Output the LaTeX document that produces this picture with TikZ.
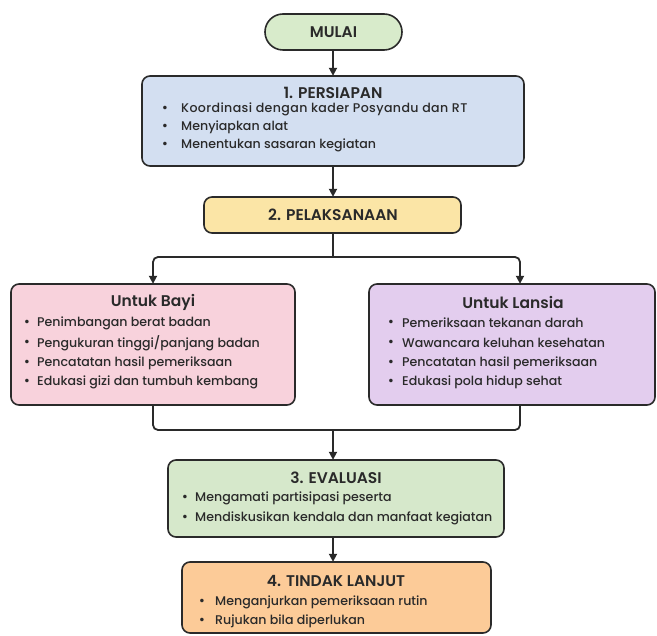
\documentclass[tikz,border=0pt]{standalone}
\usepackage{fontspec}
\setmainfont{Poppins}[UprightFont=* Medium, BoldFont=* SemiBold]
\usetikzlibrary{arrows.meta}
\definecolor{ink}{HTML}{2A2A2A}
\definecolor{cMulai}{HTML}{D8EBCB}
\definecolor{cPersiapan}{HTML}{D3DFF1}
\definecolor{cPelaksanaan}{HTML}{FBE5A6}
\definecolor{cBayi}{HTML}{F8D2DC}
\definecolor{cLansia}{HTML}{E3CDEE}
\definecolor{cEvaluasi}{HTML}{D6E8CB}
\definecolor{cTindak}{HTML}{FCCB98}
\tikzset{
  box/.style={draw=ink, line width=1.6pt, rounded corners=8pt},
  ttl/.style={font=\fontsize{15.5}{17}\selectfont\bfseries, text=ink, inner sep=0pt},
  itm/.style={font=\fontsize{12.6}{15}\selectfont, text=ink, anchor=west, inner sep=0pt},
  dot/.style={font=\fontsize{13.5}{15}\selectfont, text=ink, inner sep=0pt},
  conn/.style={draw=ink, line width=1.8pt, rounded corners=5pt},
  arr/.style={conn, -{Triangle[length=8pt,width=8pt]}},
}
\begin{document}
\begin{tikzpicture}[x=1pt,y=-1pt]
\useasboundingbox (0,0) rectangle (657,636);
% boxes
\path[box, fill=cMulai, rounded corners=18pt] (265,14) rectangle (402,50);
\node[inner sep=0pt, minimum width=137pt, minimum height=36pt] (mulai) at (333.5,32) {};
\path[box, fill=cPersiapan] (142,76) rectangle (524,166);
\node[inner sep=0pt, minimum width=382pt, minimum height=90pt] (persiapan) at (333,121) {};
\path[box, fill=cPelaksanaan] (204,197) rectangle (461,233);
\node[inner sep=0pt, minimum width=257pt, minimum height=36pt] (pelaksanaan) at (332.5,215) {};
\path[box, fill=cBayi] (11,284) rectangle (295,405);
\node[inner sep=0pt, minimum width=284pt, minimum height=121pt] (bayi) at (153,344.5) {};
\path[box, fill=cLansia] (369,284) rectangle (655,405);
\node[inner sep=0pt, minimum width=286pt, minimum height=121pt] (lansia) at (512,344.5) {};
\path[box, fill=cEvaluasi] (168,460) rectangle (504,537);
\node[inner sep=0pt, minimum width=336pt, minimum height=77pt] (evaluasi) at (336,498.5) {};
\path[box, fill=cTindak] (182,562) rectangle (491,633);
\node[inner sep=0pt, minimum width=309pt, minimum height=71pt] (tindak) at (336.5,597.5) {};
% texts
\node[ttl] (tMulai) at (333.5,32) {MULAI};
\node[ttl] (tPersiapan) at (333,93) {1. PERSIAPAN};
\node[dot] (d11) at (165,109) {•};
\node[itm] (i11) at (181,109) {\addfontfeatures{LetterSpace=3}Koordinasi dengan kader Posyandu dan RT};
\node[dot] (d12) at (165,127) {•};
\node[itm] (i12) at (181,127) {Menyiapkan alat};
\node[dot] (d13) at (165,145) {•};
\node[itm] (i13) at (181,145) {Menentukan sasaran kegiatan};
\node[ttl] (tPel) at (333,215) {2. PELAKSANAAN};
\node[ttl] (tBayi) at (153,302) {Untuk Bayi};
\node[dot] (d21) at (27,323) {•};
\node[itm] (i21) at (37,323) {Penimbangan berat badan};
\node[dot] (d22) at (27,343) {•};
\node[itm] (i22) at (37,343) {Pengukuran tinggi/panjang badan};
\node[dot] (d23) at (27,363) {•};
\node[itm] (i23) at (37,363) {Pencatatan hasil pemeriksaan};
\node[dot] (d24) at (27,382) {•};
\node[itm] (i24) at (37,382) {Edukasi gizi dan tumbuh kembang};
\node[ttl] (tLansia) at (513,302) {Untuk Lansia};
\node[dot] (d31) at (391,323) {•};
\node[itm] (i31) at (402,323) {Pemeriksaan tekanan darah};
\node[dot] (d32) at (391,343) {•};
\node[itm] (i32) at (402,343) {Wawancara keluhan kesehatan};
\node[dot] (d33) at (391,363) {•};
\node[itm] (i33) at (402,363) {Pencatatan hasil pemeriksaan};
\node[dot] (d34) at (391,382) {•};
\node[itm] (i34) at (402,382) {Edukasi pola hidup sehat};
\node[ttl] (tEval) at (336,478) {3. EVALUASI};
\node[dot] (d41) at (185,498) {•};
\node[itm] (i41) at (195,498) {Mengamati partisipasi peserta};
\node[dot] (d42) at (185,518) {•};
\node[itm] (i42) at (195,518) {Mendiskusikan kendala dan manfaat kegiatan};
\node[ttl] (tTindak) at (336,581) {4. TINDAK LANJUT};
\node[dot] (d51) at (202,602) {•};
\node[itm] (i51) at (215,602) {Menganjurkan pemeriksaan rutin};
\node[dot] (d52) at (202,621) {•};
\node[itm] (i52) at (215,621) {Rujukan bila diperlukan};
% connectors
\coordinate (split) at (333,257);
\coordinate (merge) at (333,430);
\draw[arr] (mulai.south -| 333,0) -- (persiapan.north -| 333,0);
\draw[arr] (persiapan.south -| 333,0) -- (pelaksanaan.north -| 333,0);
\draw[conn] (pelaksanaan.south -| split) -- (split);
\draw[arr] (split) -- (153,257) -- (bayi.north);
\draw[arr] (split) -- (520,257) -- (lansia.north -| 520,0);
\draw[conn] (bayi.south) -- (153,430) -- (merge);
\draw[conn] (lansia.south -| 520,0) -- (520,430) -- (merge);
\draw[arr] (merge) -- (evaluasi.north -| merge);
\draw[arr] (evaluasi.south -| 333,0) -- (tindak.north -| 333,0);
\end{tikzpicture}
\end{document}
